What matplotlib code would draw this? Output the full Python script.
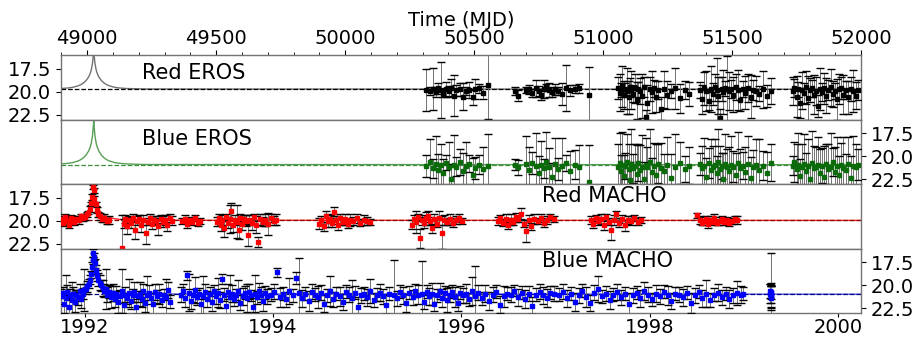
import matplotlib
matplotlib.use('Agg')
import matplotlib.pyplot as plt
import matplotlib.ticker as ticker
import numpy as np

# ---------------- data ----------------
# EROS epochs (red and blue are taken together), MJD
t_eros = [
    50315, 50328, 50340, 50352, 50361, 50370, 50378, 50390, 50401, 50410, 50422,
    50431, 50445, 50458, 50470, 50482, 50495, 50505, 50520, 50535, 50553,
    50660, 50672, 50700, 50712, 50725, 50740, 50752, 50760, 50770, 50780,
    50790, 50800, 50812, 50825, 50840, 50855, 50870, 50890, 50905, 50947,
    51058, 51064, 51069, 51075, 51081, 51086, 51092, 51099, 51104, 51110, 51117,
    51123, 51130, 51136, 51143, 51150, 51158, 51165, 51172, 51180, 51188, 51196,
    51205, 51214, 51224, 51235, 51248, 51262, 51280, 51300, 51318, 51335,
    51375, 51383, 51392, 51400, 51410, 51418, 51426, 51433, 51440, 51447, 51453,
    51460, 51466, 51473, 51480, 51488, 51496, 51505, 51514, 51523, 51532, 51542,
    51552, 51562, 51572, 51582, 51594, 51606, 51620, 51635, 51650,
    51735, 51742, 51750, 51757, 51765, 51772, 51780, 51787, 51795, 51802, 51810,
    51818, 51826, 51834, 51842, 51850, 51858, 51866, 51874, 51882, 51890, 51898,
    51906, 51914, 51922, 51930, 51940, 51950, 51960, 51970, 51980, 51988]

red_eros_mag = [
    19.8, 19.9, 19.7, 20.0, 19.6, 19.8, 20.2, 19.7, 19.9, 19.6, 20.4,
    19.8, 19.7, 20.5, 19.9, 19.8, 20.6, 19.7, 19.6, 20.1, 19.3,
    19.9, 20.4, 19.8, 19.7, 20.1, 19.6, 19.9, 20.3, 19.7, 19.5,
    19.8, 20.0, 19.7, 19.9, 20.2, 19.6, 19.8, 19.7, 19.6, 20.3,
    19.6, 20.1, 19.8, 19.4, 20.3, 19.7, 19.9, 20.6, 19.5, 19.8, 20.2,
    19.6, 20.9, 19.7, 19.9, 20.4, 19.5, 22.7, 21.2, 19.7, 20.0, 19.6,
    20.5, 19.8, 21.8, 19.7, 20.3, 19.9, 19.6, 20.7, 19.8, 20.2,
    19.8, 20.8, 19.6, 19.9, 21.0, 19.7, 20.2, 19.5, 19.8, 20.4, 22.8,
    19.7, 20.0, 19.6, 19.7, 19.9, 19.7, 20.3, 19.5, 19.8, 20.9,
    19.7, 20.1, 19.6, 20.5, 19.8, 19.9, 20.2, 19.7, 20.4, 19.9,
    19.9, 19.6, 20.5, 19.7, 21.2, 19.8, 20.1, 19.5, 20.7, 19.8, 19.6,
    20.3, 19.9, 21.5, 19.7, 20.0, 19.6, 20.4, 19.8, 19.5, 20.2, 19.9,
    20.8, 19.7, 19.6, 20.3, 19.8, 20.6, 19.7, 19.9, 20.4, 19.8]
red_eros_err = [
    2.3, 0.4, 2.3, 0.5, 0.6, 3.0, 0.4, 0.8, 0.5, 1.0, 2.2,
    0.6, 0.7, 1.5, 0.4, 0.9, 0.8, 1.1, 0.5, 0.7, 3.6,
    0.4, 0.6, 0.3, 0.5, 0.4, 0.9, 0.5, 0.6, 1.0, 0.4,
    0.8, 0.5, 0.6, 0.4, 1.2, 2.5, 0.6, 0.4, 0.5, 3.0,
    1.2, 2.0, 0.8, 2.2, 1.5, 0.7, 2.5, 1.8, 1.0, 2.1, 0.9,
    1.6, 2.0, 0.8, 1.4, 2.4, 1.1, 0.7, 1.9, 1.3, 2.3, 0.9,
    1.7, 1.0, 1.2, 2.0, 1.5, 0.8, 2.2, 1.6, 1.0, 1.3,
    0.9, 1.6, 1.8, 2.2, 1.0, 2.5, 1.2, 1.5, 3.5, 2.0, 1.0,
    1.3, 2.4, 0.8, 3.6, 2.1, 1.0, 1.9, 1.4, 2.2, 1.2,
    0.9, 1.8, 1.5, 2.3, 1.1, 1.6, 0.8, 2.0, 1.2, 1.4,
    1.5, 1.0, 2.2, 0.8, 1.6, 2.0, 1.1, 1.8, 2.4, 1.3, 0.9,
    2.1, 1.5, 1.2, 2.3, 1.0, 1.7, 1.9, 1.1, 2.0, 1.4, 0.9,
    2.2, 1.6, 1.2, 2.1, 1.0, 1.8, 1.3, 2.3, 1.5, 1.1]

blue_eros_mag = [
    21.0, 20.6, 21.3, 20.8, 21.5, 20.9, 21.8, 20.7, 21.2, 22.4, 20.9,
    21.1, 20.6, 21.6, 21.0, 20.8, 22.0, 21.3, 20.9, 21.4, 21.0,
    20.9, 21.2, 20.8, 21.5, 20.7, 21.0, 21.8, 20.9, 21.3, 20.6,
    21.1, 22.2, 20.8, 21.4, 21.0, 20.7, 21.6, 20.9, 21.2, 22.8,
    21.2, 20.7, 21.6, 20.9, 22.1, 21.0, 20.6, 21.4, 22.6, 20.8, 21.3,
    21.0, 21.9, 20.7, 21.5, 21.1, 22.4, 20.9, 21.2, 20.6, 21.7, 21.0,
    22.0, 20.8, 21.3, 21.6, 20.9, 22.3, 21.1, 20.7, 21.4, 21.0,
    20.8, 21.3, 21.0, 22.2, 20.7, 21.5, 21.1, 20.9, 21.8, 20.6, 21.4,
    21.0, 22.5, 20.8, 21.2, 21.6, 20.9, 21.1, 22.0, 20.7, 21.3,
    21.0, 21.7, 20.8, 22.3, 21.2, 20.9, 21.5, 21.0, 21.8, 20.7,
    21.0, 20.6, 21.4, 20.9, 22.1, 21.2, 20.8, 21.6, 21.0, 22.4, 20.7,
    21.3, 21.1, 20.9, 21.8, 21.0, 22.2, 20.8, 21.4, 21.1, 20.6, 21.7,
    21.0, 22.0, 20.9, 21.3, 21.5, 20.8, 22.3, 21.0, 21.2, 20.9]
blue_eros_err = [
    1.2, 2.5, 1.0, 3.0, 1.8, 2.2, 1.5, 0.8, 2.8, 1.6, 3.2,
    1.0, 1.4, 2.0, 2.6, 0.9, 1.8, 1.2, 1.0, 2.4, 3.4,
    0.6, 0.8, 3.0, 2.5, 1.2, 3.5, 1.8, 2.6, 1.0, 3.2,
    2.0, 1.5, 2.8, 1.2, 3.0, 0.9, 2.2, 1.6, 2.4, 4.0,
    2.6, 3.2, 1.8, 3.5, 2.2, 1.4, 3.0, 2.8, 2.0, 3.8, 1.6,
    2.4, 3.1, 2.0, 2.7, 3.4, 1.8, 2.9, 2.2, 3.6, 1.5, 2.5,
    3.3, 2.1, 2.8, 1.9, 3.0, 2.6, 3.5, 2.3, 1.4, 2.0,
    1.2, 2.4, 3.0, 2.0, 1.6, 3.4, 2.2, 2.8, 1.8, 3.6, 2.5,
    1.4, 2.9, 3.2, 2.0, 2.6, 3.1, 1.7, 2.4, 3.3, 2.1,
    1.5, 2.7, 3.0, 2.2, 1.9, 2.8, 3.4, 1.6, 2.3, 2.0,
    1.0, 2.2, 2.8, 3.4, 1.8, 2.5, 3.2, 2.0, 2.9, 1.6, 3.5,
    2.4, 2.1, 3.0, 2.6, 1.9, 3.3, 2.2, 2.8, 3.6, 1.5, 2.7,
    3.1, 2.0, 2.4, 3.4, 1.8, 2.9, 2.3, 3.2, 2.6, 1.7]

# MACHO red
t_red_macho = [
    48900, 48906, 48912, 48918, 48924, 48930, 48936, 48942, 48950, 48958,
    48966, 48974, 48982, 48990, 48998, 49004, 49010, 49015, 49019, 49022,
    49025, 49028, 49032, 49037, 49043, 49050, 49058, 49066, 49075, 49085,
    49136, 49142, 49148, 49155, 49162, 49170, 49178, 49186, 49194, 49202,
    49210, 49218, 49226, 49234, 49242, 49250, 49258, 49266, 49275, 49284,
    49293, 49302, 49311, 49320, 49327,
    49368, 49378, 49388, 49398, 49408, 49418, 49428, 49438,
    49503, 49510, 49517, 49524, 49531, 49538, 49545, 49552, 49559, 49566,
    49573, 49580, 49587, 49594, 49601, 49608, 49615, 49622, 49629, 49637,
    49645, 49653, 49661, 49670, 49680, 49690, 49700, 49712, 49724, 49732,
    49900, 49908, 49916, 49924, 49932, 49940, 49948, 49956, 49964, 49972,
    49980, 49990, 50000, 50010, 50020, 50032, 50045, 50058, 50072, 50086, 50098,
    50258, 50266, 50274, 50282, 50290, 50298, 50306, 50314, 50322, 50330,
    50338, 50346, 50355, 50364, 50374, 50384, 50395, 50406, 50418, 50430,
    50442, 50454,
    50592, 50602, 50612, 50622, 50632, 50642, 50652, 50662, 50672, 50682,
    50692, 50702, 50712, 50722, 50734, 50746, 50758, 50770, 50782, 50795, 50808,
    50952, 50962, 50972, 50982, 50992, 51002, 51012, 51022, 51032, 51042,
    51052, 51062, 51072, 51084, 51096, 51108, 51120, 51135, 51148,
    51366, 51374, 51382, 51390, 51398, 51406, 51414, 51422, 51430, 51440,
    51450, 51460, 51470, 51480, 51490, 51500, 51510, 51518]
red_macho_mag = [
    19.8, 20.2, 19.6, 20.0, 19.9, 20.4, 19.7, 19.9, 20.1, 19.8,
    19.9, 19.5, 19.7, 19.6, 19.3, 19.1, 18.7, 18.1, 17.4, 16.3,
    16.7, 17.6, 18.2, 18.8, 19.3, 19.5, 19.8, 19.7, 20.0, 19.9,
    22.9, 20.3, 19.8, 20.6, 19.9, 20.2, 19.7, 21.0, 20.0, 19.8,
    20.5, 19.9, 21.3, 20.1, 19.7, 20.3, 19.9, 20.0, 20.6, 19.8,
    20.1, 19.9, 20.4, 19.7, 20.0,
    20.0, 19.8, 20.3, 19.9, 20.1, 19.7, 20.2, 20.0,
    20.1, 19.7, 20.4, 19.9, 20.8, 19.6, 20.2, 19.8, 18.9, 20.5,
    19.9, 20.1, 21.0, 19.7, 20.3, 19.8, 20.0, 21.5, 19.9, 20.2,
    19.6, 20.4, 22.3, 19.8, 20.1, 19.9, 20.3, 19.7, 20.0, 19.9,
    20.3, 19.9, 20.6, 19.5, 20.0, 19.8, 20.2, 19.0, 19.9, 20.4,
    19.7, 20.1, 19.8, 20.3, 19.9, 20.0, 19.7, 20.2, 19.9, 20.0, 20.1,
    20.4, 19.8, 20.1, 19.6, 21.9, 19.9, 20.2, 19.7, 19.5, 20.0,
    20.8, 19.8, 20.3, 19.7, 21.3, 19.9, 20.1, 19.8, 20.2, 19.9,
    19.7, 20.0,
    20.0, 19.7, 20.2, 19.8, 20.5, 19.9, 20.1, 19.6, 19.8, 19.2,
    20.3, 21.1, 19.9, 20.6, 19.8, 20.0, 19.7, 20.2, 19.9, 19.6, 19.8,
    19.9, 20.3, 19.7, 20.0, 19.8, 20.4, 19.6, 20.1, 21.0, 19.9,
    19.3, 20.2, 19.8, 20.5, 19.9, 20.0, 19.7, 20.1, 19.9,
    19.4, 19.9, 20.2, 20.0, 19.8, 20.3, 19.9, 20.1, 19.7, 20.2,
    20.0, 19.8, 20.1, 19.9, 20.2, 20.0, 19.8, 19.9]
red_macho_err = [
    0.3, 0.4, 0.3, 0.5, 0.3, 0.4, 0.3, 0.4, 0.3, 0.3,
    0.4, 0.3, 0.3, 0.3, 0.3, 0.2, 0.3, 0.2, 0.3, 0.2,
    0.3, 0.3, 0.2, 0.3, 0.3, 0.4, 0.3, 0.4, 0.3, 0.4,
    3.5, 0.5, 0.4, 0.8, 0.4, 0.6, 0.4, 1.0, 0.5, 0.4,
    0.7, 0.5, 1.2, 0.4, 0.5, 0.6, 0.4, 0.5, 0.9, 0.4,
    0.6, 0.5, 0.7, 0.4, 0.5,
    0.3, 0.4, 0.5, 0.3, 0.4, 0.3, 0.4, 0.3,
    0.5, 0.4, 0.7, 0.5, 0.9, 0.4, 0.6, 1.5, 0.8, 0.7,
    0.5, 1.8, 1.0, 0.5, 0.7, 0.4, 0.6, 1.2, 0.5, 0.8,
    0.4, 0.9, 0.5, 0.6, 0.5, 0.7, 1.2, 0.4, 0.5, 0.6,
    0.6, 0.4, 0.5, 0.6, 0.7, 0.4, 0.5, 0.5, 0.4, 0.6,
    0.5, 0.4, 0.6, 0.5, 0.7, 0.4, 0.5, 0.4, 0.5, 0.4, 0.3,
    0.5, 0.4, 1.2, 0.4, 1.0, 0.5, 0.6, 0.7, 0.6, 0.4,
    0.5, 0.6, 0.4, 0.8, 1.8, 0.5, 0.4, 0.6, 0.5, 0.4,
    0.4, 0.3,
    0.4, 0.3, 0.4, 0.5, 0.4, 0.6, 0.4, 0.5, 0.3, 0.6,
    0.4, 1.2, 0.5, 0.4, 0.5, 0.3, 0.4, 0.5, 0.4, 0.3, 0.3,
    0.4, 0.5, 0.3, 0.4, 0.5, 0.6, 0.4, 0.4, 1.1, 0.5,
    0.4, 0.5, 0.4, 0.6, 0.4, 0.5, 0.3, 0.4, 0.3,
    0.3, 0.4, 0.3, 0.4, 0.3, 0.5, 0.4, 0.3, 0.4, 0.3,
    0.4, 0.3, 0.4, 0.3, 0.4, 0.3, 0.3, 0.4]

# MACHO blue
t_blue_macho = [
    48900, 48905, 48910, 48916, 48922, 48928, 48934, 48940, 48946, 48952,
    48958, 48964, 48970, 48976, 48982, 48988, 48994, 49000, 49005, 49010,
    49014, 49018, 49021, 49024, 49027, 49030, 49034, 49038, 49043, 49048,
    49054, 49060, 49066, 49072, 49078, 49085, 49092, 49099,
    49106, 49113, 49120, 49127, 49134, 49141, 49148, 49155, 49162, 49169,
    49176, 49183, 49190, 49197, 49204, 49211, 49218, 49225, 49232, 49240,
    49248, 49256, 49264, 49272, 49280, 49288, 49296, 49305, 49313, 49320,
    49362, 49370, 49378, 49386, 49394, 49402, 49410, 49418, 49426, 49434,
    49442, 49450, 49458, 49466, 49474, 49482, 49490, 49498, 49506, 49514,
    49522, 49530, 49538, 49546, 49554, 49562, 49570, 49578, 49586, 49594,
    49602, 49610, 49618, 49626, 49634, 49642, 49650, 49658, 49666, 49674,
    49682, 49690, 49698,
    49712, 49724, 49736, 49748, 49760, 49772, 49784, 49796, 49808, 49822,
    49834, 49846, 49858, 49870, 49882, 49894, 49906, 49918, 49930, 49942,
    49954, 49966, 49978, 49990, 50002, 50014, 50026, 50038, 50050, 50062,
    50074, 50086, 50098, 50110, 50122, 50134, 50146, 50158, 50170, 50189,
    50200, 50212, 50224, 50236, 50248,
    50262, 50272, 50282, 50298, 50306, 50316, 50326, 50336, 50346, 50356,
    50366, 50376, 50386, 50396, 50406, 50416, 50426, 50436, 50446, 50456,
    50468, 50480, 50492, 50503, 50516, 50530, 50544, 50558, 50572, 50586,
    50600, 50614, 50628, 50642, 50656, 50670, 50684, 50698, 50712, 50726,
    50740, 50754, 50768, 50782, 50796, 50810,
    50830, 50845, 50860, 50875, 50890, 50905, 50920, 50935, 50950, 50965,
    50980, 50995, 51010, 51025, 51040, 51055, 51070, 51085, 51100, 51115,
    51130, 51145, 51160, 51175, 51190, 51205, 51220, 51235, 51250, 51265,
    51280, 51295, 51310, 51325, 51340, 51355, 51370, 51385, 51400, 51415,
    51430, 51445, 51460, 51475, 51490, 51505, 51520, 51535, 51543,
    51648, 51649, 51650, 51650, 51651, 51651, 51652, 51653]
blue_macho_mag = [
    21.2, 20.8, 22.0, 21.4, 20.7, 22.4, 21.0, 21.6, 20.9, 21.8,
    21.1, 21.3, 20.6, 21.5, 20.9, 20.5, 20.4, 20.1, 19.8, 19.4,
    18.8, 18.0, 17.3, 16.5, 16.9, 17.6, 18.3, 18.9, 19.4, 19.7,
    20.0, 20.3, 20.6, 20.4, 21.0, 20.7, 21.3, 20.8,
    21.5, 20.9, 21.8, 21.2, 20.6, 22.1, 21.0, 21.4, 20.8, 21.7,
    21.1, 20.7, 22.3, 21.2, 20.9, 21.5, 20.6, 21.9, 21.1, 20.8,
    21.4, 22.0, 20.7, 21.2, 20.9, 21.6, 21.0, 21.3, 20.5, 21.8,
    21.0, 20.6, 21.4, 18.9, 20.8, 21.7, 21.1, 20.5, 21.3, 20.9,
    22.0, 21.2, 20.7, 21.5, 20.9, 21.8, 20.6, 21.2, 20.8, 21.6,
    19.3, 21.0, 22.2, 20.7, 21.3, 20.9, 21.5, 21.0, 20.6, 21.9,
    21.2, 20.8, 21.4, 20.7, 21.1, 22.4, 20.9, 21.3, 20.6, 21.0,
    21.7, 20.8, 21.2,
    21.0, 20.7, 18.6, 21.3, 20.9, 21.5, 20.6, 21.1, 19.2, 20.8,
    21.4, 20.9, 21.7, 20.7, 21.0, 21.3, 20.8, 22.0, 21.1, 20.6,
    21.5, 20.9, 21.2, 21.8, 20.7, 21.0, 21.4, 20.8, 22.3, 21.1,
    20.9, 21.3, 20.6, 21.6, 21.0, 20.8, 21.2, 22.1, 20.9, 21.0,
    21.4, 20.7, 21.1, 21.9, 20.8,
    21.3, 20.6, 21.0, 20.9, 21.8, 20.7, 21.2, 20.9, 22.0, 21.1,
    20.6, 21.4, 20.8, 21.6, 21.0, 20.7, 21.3, 21.9, 20.8, 21.1,
    20.9, 21.5, 20.6, 21.2, 20.8, 21.4, 20.9, 21.7, 21.0, 20.7,
    22.1, 21.2, 20.9, 21.0, 20.6, 21.3, 20.8, 21.5, 20.9, 22.2,
    21.0, 20.7, 21.1, 21.4, 20.8, 20.9,
    21.0, 20.7, 21.4, 20.9, 21.8, 21.1, 20.6, 21.3, 21.9, 20.8,
    20.4, 21.2, 20.9, 21.6, 21.0, 20.7, 21.3, 20.9, 22.0, 21.1,
    20.8, 21.4, 20.6, 21.0, 21.5, 20.9, 21.2, 20.7, 21.1, 21.7,
    20.9, 21.0, 21.3, 20.8, 21.9, 21.1, 20.7, 21.4, 20.9, 21.6,
    21.0, 20.8, 21.3, 20.9, 21.5, 21.1, 20.8, 21.0, 20.9,
    20.6, 20.9, 21.2, 20.7, 21.4, 21.0, 20.8, 21.1]
blue_macho_err = [
    0.8, 0.6, 1.0, 2.5, 0.7, 0.9, 0.6, 2.0, 0.7, 1.1,
    0.6, 0.8, 0.7, 1.0, 0.6, 2.3, 0.5, 0.6, 0.5, 0.5,
    0.4, 0.5, 0.4, 0.4, 0.4, 0.5, 0.5, 0.6, 0.7, 0.8,
    0.6, 0.9, 0.7, 2.2, 0.8, 0.7, 1.2, 0.9,
    0.9, 0.8, 1.2, 0.7, 2.4, 1.0, 0.8, 0.6, 1.5, 0.9,
    0.7, 1.1, 0.8, 0.6, 1.3, 0.9, 0.7, 1.0, 2.1, 0.8,
    0.6, 1.2, 0.9, 0.7, 1.1, 0.8, 0.6, 2.0, 0.9, 0.7,
    0.8, 0.7, 1.0, 0.5, 2.0, 0.9, 0.7, 1.4, 0.8, 0.6,
    1.1, 2.2, 0.8, 0.9, 0.7, 1.0, 0.6, 0.8, 1.6, 0.9,
    0.5, 0.7, 1.0, 0.8, 2.4, 0.9, 0.7, 0.6, 1.2, 0.8,
    0.9, 0.7, 1.5, 0.8, 0.6, 1.0, 2.0, 0.7, 0.9, 0.8,
    1.1, 0.7, 0.8,
    0.7, 0.8, 0.5, 1.0, 0.7, 0.8, 1.4, 0.7, 0.6, 3.8,
    0.9, 0.7, 1.1, 0.8, 0.7, 1.2, 0.8, 0.9, 0.7, 1.6,
    0.8, 0.7, 1.0, 0.9, 0.7, 0.8, 2.0, 0.7, 1.0, 0.8,
    0.7, 0.9, 1.3, 0.8, 0.7, 0.9, 0.8, 1.0, 0.7, 3.8,
    0.8, 0.7, 0.9, 1.0, 0.7,
    0.8, 0.7, 1.0, 3.5, 0.8, 0.7, 0.9, 1.2, 0.8, 0.7,
    0.9, 1.0, 0.7, 1.3, 0.8, 0.7, 1.1, 0.9, 0.7, 0.8,
    1.0, 0.7, 1.5, 3.3, 0.8, 0.7, 0.9, 1.0, 0.8, 0.7,
    0.9, 1.1, 0.7, 0.8, 0.6, 0.9, 0.7, 1.0, 0.8, 0.9,
    0.7, 0.8, 0.9, 1.0, 0.7, 0.8,
    0.7, 0.8, 0.9, 0.7, 1.0, 0.8, 0.7, 1.1, 0.9, 0.8,
    1.4, 0.7, 0.8, 1.0, 0.7, 0.9, 0.8, 0.7, 1.2, 0.8,
    0.7, 0.9, 1.0, 0.8, 0.7, 0.9, 0.8, 0.7, 1.0, 0.9,
    0.7, 0.8, 0.9, 0.7, 1.1, 0.8, 0.7, 0.9, 1.5, 0.8,
    0.7, 0.9, 0.8, 0.7, 1.0, 0.8, 1.3, 0.9, 0.7,
    0.8, 1.0, 1.2, 4.2, 1.3, 0.9, 0.7, 1.4]

# fitted light-curve models: epochs and magnification (mag above baseline)
t_model = [48898, 48925, 48945, 48965, 48975, 48985, 48995, 49005, 49010,
           49015, 49020, 49023, 49025, 49027, 49030, 49035, 49040, 49045,
           49055, 49065, 49075, 49085, 49105, 49125, 49155, 49225, 52000]
dm_red_eros = [0.07, 0.13, 0.21, 0.37, 0.49, 0.67, 0.92, 1.32, 1.61, 2.03, 2.75,
               3.59, 4.25, 3.59, 2.75, 2.03, 1.61, 1.32, 0.92, 0.67, 0.49, 0.37,
               0.21, 0.13, 0.07, 0.02, 0.0]
dm_blue_eros = [0.08, 0.15, 0.24, 0.41, 0.55, 0.75, 1.03, 1.48, 1.80, 2.27, 3.08,
                4.02, 4.76, 4.02, 3.08, 2.27, 1.80, 1.48, 1.03, 0.75, 0.55, 0.41,
                0.24, 0.15, 0.08, 0.02, 0.0]
dm_red_macho = [0.06, 0.11, 0.19, 0.32, 0.43, 0.59, 0.81, 1.16, 1.42, 1.79, 2.42,
                3.16, 3.74, 3.16, 2.42, 1.79, 1.42, 1.16, 0.81, 0.59, 0.43, 0.32,
                0.19, 0.11, 0.06, 0.02, 0.0]
dm_blue_macho = [0.07, 0.14, 0.23, 0.39, 0.52, 0.71, 0.98, 1.41, 1.72, 2.18, 2.94,
                 3.84, 4.54, 3.84, 2.94, 2.18, 1.72, 1.41, 0.98, 0.71, 0.52, 0.39,
                 0.23, 0.14, 0.07, 0.02, 0.0]

base_red_eros, base_blue_eros = 19.7, 20.9
base_red_macho, base_blue_macho = 19.95, 20.96

year_ticks = [1992, 1994, 1996, 1998, 2000]

# ---------------- plotting ----------------
plt.rcParams.update({'font.family': 'DejaVu Sans', 'font.size': 14,
                     'xtick.labelsize': 14, 'ytick.labelsize': 14})

fig, axes = plt.subplots(4, 1, figsize=(9.14, 3.38), dpi=100, sharex=True)
fig.subplots_adjust(left=0.0667, right=0.942, top=0.837, bottom=0.074, hspace=0)

panels = [
    (t_eros, red_eros_mag, red_eros_err, 'k', dm_red_eros, base_red_eros,
     '0.35', 'k', 'Red EROS', (0.101, 0.72), 'left'),
    (t_eros, blue_eros_mag, blue_eros_err, '#0b6b0b', dm_blue_eros, base_blue_eros,
     '#3a8f3a', '#3a8f3a', 'Blue EROS', (0.101, 0.70), 'right'),
    (t_red_macho, red_macho_mag, red_macho_err, 'red', dm_red_macho, base_red_macho,
     'red', 'darkred', 'Red MACHO', (0.601, 0.815), 'left'),
    (t_blue_macho, blue_macho_mag, blue_macho_err, 'blue', dm_blue_macho, base_blue_macho,
     '#3b3bd0', 'darkblue', 'Blue MACHO', (0.601, 0.805), 'right'),
]

for ax, (t, m, e, pcol, dm, base, mcol, dcol, name, pos, side) in zip(axes, panels):
    # model curve and baseline
    ax.plot(t_model, base - np.array(dm), color=mcol, lw=1.0, alpha=0.85, zorder=1)
    ax.axhline(base, color=dcol, ls='--', lw=0.9, zorder=2)

    # data with error bars (grey bars, black caps)
    eb = ax.errorbar(t, m, yerr=e, fmt='none', ecolor='k', elinewidth=0.7,
                     capsize=3, capthick=1.0, zorder=3)
    for bl in eb[2]:
        bl.set_color('0.45')
    ax.plot(t, m, 's', color=pcol, ms=2.2, mec=pcol, zorder=4)

    ax.text(pos[0], pos[1], name, transform=ax.transAxes, fontsize=15,
            ha='left', va='center')

    ax.set_ylim(23.0, 16.0)
    ax.set_yticks([17.5, 20.0, 22.5])
    ax.yaxis.set_major_formatter(ticker.FormatStrFormatter('%.1f'))
    if side == 'right':
        ax.yaxis.tick_right()
    for sp in ax.spines.values():
        sp.set_color('0.45')
        sp.set_linewidth(1.0)
    ax.tick_params(axis='x', which='both', bottom=False, top=False,
                   labelbottom=False, labeltop=False)

ax1 = axes[0]
ax1.set_xlim(48898, 52000)
ax1.xaxis.set_major_locator(ticker.MultipleLocator(500))
ax1.xaxis.set_minor_locator(ticker.MultipleLocator(100))
ax1.tick_params(axis='x', which='both', top=True, labeltop=True, pad=1.5)
ax1.tick_params(axis='x', which='minor', length=2)
ax1.xaxis.set_label_position('top')
ax1.set_xlabel('Time (MJD)', fontsize=14, labelpad=2)


def mjd2yr(x):
    return 1992.0 + (np.asarray(x) - 48990.0) / 365.25


def yr2mjd(y):
    return 48990.0 + (np.asarray(y) - 1992.0) * 365.25


sec = axes[3].secondary_xaxis('bottom', functions=(mjd2yr, yr2mjd))
sec.set_xticks(year_ticks)
sec.xaxis.set_major_formatter(ticker.FormatStrFormatter('%d'))
sec.tick_params(axis='x', length=3, pad=0.5)
sec.spines['bottom'].set_visible(False)

fig.savefig('out.png', dpi=100)
